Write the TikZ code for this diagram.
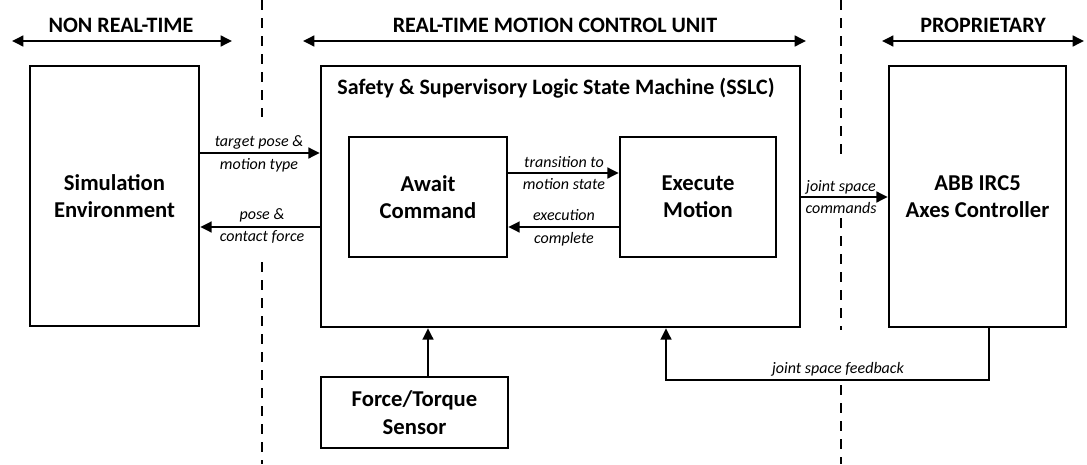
\documentclass[tikz,border=0pt]{standalone}
\usepackage{fontspec}
\setmainfont{Carlito}
\usetikzlibrary{arrows.meta}
\begin{document}
\begin{tikzpicture}[x=0.75pt,y=-0.75pt,
  box/.style={draw,line width=1.9pt,inner sep=0pt,align=center,font=\bfseries\fontsize{17}{20.5}\selectfont},
  arr/.style={line width=1.8pt,-{Triangle[length=8.5pt,width=8pt]}},
  darr/.style={line width=1.8pt,{Triangle[length=8.5pt,width=8pt]}-{Triangle[length=8.5pt,width=8pt]}},
  sep/.style={line width=1.9pt,dash pattern=on 7.5pt off 6pt},
  lbl/.style={align=center,font=\itshape\fontsize{12}{16}\selectfont,inner sep=1pt},
  head/.style={font=\bfseries\fontsize{16.5}{18}\selectfont}]
\useasboundingbox (0,0) rectangle (1087,464);
% separators
\draw[sep] (262,0) -- (262,117);
\draw[sep] (262,262) -- (262,464);
\draw[sep] (841,0) -- (841,162);
\draw[sep] (841,218) -- (841,330);
\draw[sep] (841,385) -- (841,464);
% headers
\draw[darr] (12,41) -- (232,41);
\node[head] (h1) at (121,25) {NON REAL-TIME};
\draw[darr] (303,41) -- (806,41);
\node[head] (h2) at (555,25) {REAL-TIME MOTION CONTROL UNIT};
\draw[darr] (882,41) -- (1084,41);
\node[head] (h3) at (983,25) {PROPRIETARY};
% boxes
\node[box,minimum width={169*0.75pt},minimum height={260*0.75pt}] (sim) at (114.5,196) {Simulation\\Environment};
\node[box,minimum width={479*0.75pt},minimum height={261*0.75pt}] (sslc) at (560.5,196.5) {};
\node[head] (title) at (556,88) {Safety \& Supervisory Logic State Machine (SSLC)};
\node[box,minimum width={158*0.75pt},minimum height={120*0.75pt}] (await) at (428,197) {Await\\Command};
\node[box,minimum width={156*0.75pt},minimum height={120*0.75pt}] (exec) at (698,197) {Execute\\Motion};
\node[box,minimum width={177*0.75pt},minimum height={261*0.75pt}] (abb) at (977.5,196.5) {ABB IRC5\\Axes Controller};
\node[box,minimum width={187*0.75pt},minimum height={71*0.75pt}] (sensor) at (414.5,412.5) {Force/Torque\\Sensor};
% connectors
\draw[arr] (sim.east |- 0,153) -- (sslc.west |- 0,153);
\node[lbl] (l1) at (259,154) {target pose \&\\[1pt]motion type};
\draw[arr] (sslc.west |- 0,227) -- (sim.east |- 0,227);
\node[lbl] (l2) at (262,226) {pose \&\\[1pt]contact force};
\draw[arr] (await.east |- 0,173) -- (exec.west |- 0,173);
\node[lbl] (l3) at (564,173) {transition to\\[1pt]motion state};
\draw[arr] (exec.west |- 0,227) -- (await.east |- 0,227);
\node[lbl] (l4) at (564,228) {execution\\[1pt]complete};
\draw[arr] (sslc.east |- 0,197) -- (abb.west |- 0,197);
\node[lbl] (l5) at (841,197) {joint space\\[1pt]commands};
\draw[arr] (sensor.north -| 428,0) -- (sslc.south -| 428,0);
\draw[arr] (abb.south -| 989,0) -- (989,380) -- (666,380) -- (sslc.south -| 666,0);
\node[lbl,anchor=south] (l6) at (838,378) {joint space feedback};
\end{tikzpicture}
\end{document}
